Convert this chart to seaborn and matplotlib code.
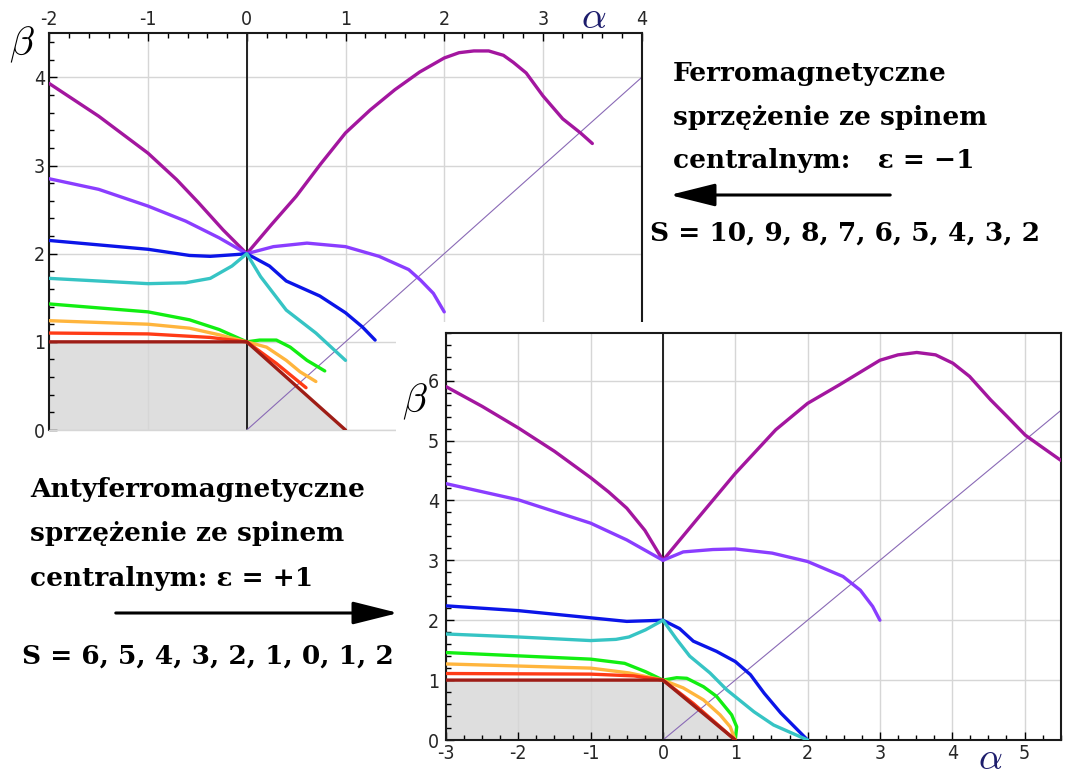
import matplotlib
matplotlib.use("Agg")
import matplotlib.pyplot as plt
import seaborn as sns
from matplotlib.patches import Rectangle, FancyArrowPatch
from matplotlib.ticker import MultipleLocator

# ---------------- data: ferromagnetic (eps = -1), top panel ----------------
fm_magenta_a = [-2, -1.5, -1, -0.71, -0.49, -0.24, 0, 0.25, 0.5, 0.75, 1, 1.25, 1.5, 1.75, 2, 2.15, 2.3, 2.45, 2.6, 2.7, 2.83, 3.0, 3.2, 3.38, 3.5]
fm_magenta_b = [3.93, 3.56, 3.14, 2.84, 2.58, 2.27, 2.0, 2.33, 2.65, 3.02, 3.37, 3.63, 3.86, 4.06, 4.22, 4.28, 4.30, 4.30, 4.25, 4.17, 4.05, 3.79, 3.53, 3.37, 3.25]
fm_violet_a = [-2, -1.5, -1, -0.62, -0.28, 0, 0.27, 0.61, 1, 1.34, 1.64, 1.76, 1.89, 2.0]
fm_violet_b = [2.85, 2.73, 2.54, 2.37, 2.18, 2.0, 2.08, 2.12, 2.08, 1.97, 1.82, 1.70, 1.55, 1.34]
fm_blue_a = [-2, -1, -0.58, -0.37, -0.11, 0, 0.23, 0.4, 0.74, 1.0, 1.17, 1.3]
fm_blue_b = [2.15, 2.05, 1.98, 1.97, 1.99, 2.0, 1.86, 1.69, 1.52, 1.33, 1.17, 1.02]
fm_cyan_a = [-2, -1, -0.62, -0.37, -0.15, 0, 0.14, 0.4, 0.7, 1.0]
fm_cyan_b = [1.72, 1.66, 1.67, 1.72, 1.86, 2.0, 1.74, 1.36, 1.10, 0.79]
fm_green_a = [-2, -1, -0.58, -0.28, 0, 0.13, 0.30, 0.44, 0.61, 0.79]
fm_green_b = [1.43, 1.34, 1.25, 1.14, 1.0, 1.02, 1.02, 0.94, 0.79, 0.67]
fm_orange_a = [-2, -1, -0.58, -0.28, 0, 0.2, 0.4, 0.54, 0.7]
fm_orange_b = [1.24, 1.20, 1.155, 1.08, 1.0, 0.94, 0.79, 0.66, 0.55]
fm_red_a = [-2, -1, -0.37, 0, 0.3, 0.6]
fm_red_b = [1.10, 1.09, 1.05, 1.0, 0.755, 0.48]
fm_dark_a = [-2, 0, 1]
fm_dark_b = [1, 1, 0]
fm_diag_a = [0, 4]
fm_diag_b = [0, 4]

# ---------------- data: antiferromagnetic (eps = +1), bottom panel ----------------
afm_magenta_a = [-3, -2.5, -2, -1.5, -1, -0.75, -0.5, -0.25, 0, 0.46, 1, 1.56, 2, 2.44, 3.0, 3.25, 3.51, 3.77, 4.01, 4.24, 4.53, 4.76, 5.01, 5.23, 5.5]
afm_magenta_b = [5.90, 5.57, 5.21, 4.82, 4.38, 4.14, 3.87, 3.50, 3.0, 3.67, 4.45, 5.18, 5.62, 5.93, 6.34, 6.43, 6.47, 6.43, 6.29, 6.07, 5.68, 5.40, 5.09, 4.90, 4.67]
afm_violet_a = [-3, -2, -1, -0.5, 0, 0.28, 0.69, 1, 1.51, 2, 2.49, 2.73, 2.9, 3.0]
afm_violet_b = [4.28, 4.01, 3.62, 3.34, 3.0, 3.14, 3.18, 3.19, 3.12, 2.98, 2.73, 2.50, 2.23, 2.0]
afm_blue_a = [-3, -2, -1, -0.5, -0.24, 0, 0.23, 0.42, 0.74, 1.0, 1.21, 1.40, 1.63, 1.77, 2.0]
afm_blue_b = [2.24, 2.16, 2.04, 1.98, 1.99, 2.0, 1.86, 1.65, 1.48, 1.31, 1.09, 0.78, 0.45, 0.28, 0.0]
afm_cyan_a = [-3, -2, -1, -0.65, -0.47, -0.24, 0, 0.19, 0.37, 0.65, 0.88, 1.26, 1.53, 2.0]
afm_cyan_b = [1.77, 1.72, 1.66, 1.68, 1.72, 1.84, 2.0, 1.68, 1.40, 1.12, 0.84, 0.47, 0.25, 0.0]
afm_green_a = [-3, -1, -0.53, -0.24, 0, 0.19, 0.33, 0.56, 0.74, 0.95, 1.02, 1.0]
afm_green_b = [1.46, 1.35, 1.28, 1.14, 1.0, 1.04, 1.03, 0.89, 0.73, 0.42, 0.22, 0.0]
afm_orange_a = [-3, -1, -0.47, 0, 0.28, 0.56, 0.79, 0.93, 1.0]
afm_orange_b = [1.27, 1.20, 1.12, 1.0, 0.87, 0.67, 0.42, 0.22, 0.0]
afm_red_a = [-3, -1, -0.4, 0, 0.42, 1.0]
afm_red_b = [1.11, 1.10, 1.07, 1.0, 0.61, 0.0]
afm_dark_a = [-3, 0, 1]
afm_dark_b = [1, 1, 0]
afm_diag_a = [0, 5.5]
afm_diag_b = [0, 5.5]

top_xticks = [-2, -1, 0, 1, 2, 3, 4]
top_yticks = [0, 1, 2, 3, 4]
bot_xticks = [-3, -2, -1, 0, 1, 2, 3, 4, 5]
bot_yticks = [0, 1, 2, 3, 4, 5, 6]

curve_colors = ["#a3169f", "#8a3dff", "#0b15e8", "#36c4c4", "#12ee12", "#ffb53d", "#ff3b16", "#9e1d16"]
DIAG = "#8a6ab6"
GRID = "#d6d6d6"
FILL = "#dedede"
NAVY = "#1d1d6c"

sns.set_style("white")
plt.rcParams["axes.unicode_minus"] = False
plt.rcParams["mathtext.fontset"] = "cm"
plt.rcParams["font.family"] = ["DejaVu Sans"]
plt.rcParams["font.stretch"] = "condensed"

fig = plt.figure(figsize=(10.76, 7.78), dpi=100)
W, H = 1076.0, 778.0


def rect(x0, y0, x1, y1):
    return [x0 / W, 1 - y1 / H, (x1 - x0) / W, (y1 - y0) / H]


def draw_panel(ax, curves, dark, diag, xlim, ylim, xticks, yticks, xminor, yminor, top):
    ax.set_xlim(*xlim)
    ax.set_ylim(*ylim)
    ax.set_axisbelow(True)
    ax.fill_between(dark[0], dark[1], 0, color=FILL, lw=0, zorder=0.2)
    ax.grid(True, which="major", color=GRID, lw=1.0)
    ax.axvline(0, color="#222222", lw=1.4, zorder=1.5)
    sns.lineplot(x=diag[0], y=diag[1], ax=ax, color=DIAG, lw=0.8, sort=False, estimator=None, zorder=1.6)
    for (a, b), c in zip(curves, curve_colors):
        sns.lineplot(x=a, y=b, ax=ax, color=c, lw=2.4, sort=False, estimator=None, zorder=3)
    ax.set_xticks(xticks)
    ax.set_yticks(yticks)
    ax.xaxis.set_minor_locator(MultipleLocator(xminor))
    ax.yaxis.set_minor_locator(MultipleLocator(yminor))
    ax.set_xlabel("")
    ax.set_ylabel("")
    if top:
        ax.xaxis.tick_top()
    ax.tick_params(which="both", direction="in", color="black", width=1.0,
                   top=top, bottom=not top, left=True, right=False,
                   labeltop=top, labelbottom=not top, labelsize=14, pad=3)
    ax.tick_params(which="major", length=6)
    ax.tick_params(which="minor", length=3.5)
    for s in ax.spines.values():
        s.set_color("#1a1a1a")
        s.set_linewidth(1.5)
        s.set_visible(True)


ax1 = fig.add_axes(rect(49.3, 33.3, 641.7, 430), zorder=0)
fm_curves = [(fm_magenta_a, fm_magenta_b), (fm_violet_a, fm_violet_b), (fm_blue_a, fm_blue_b),
             (fm_cyan_a, fm_cyan_b), (fm_green_a, fm_green_b), (fm_orange_a, fm_orange_b),
             (fm_red_a, fm_red_b), (fm_dark_a, fm_dark_b)]
draw_panel(ax1, fm_curves, (fm_dark_a, fm_dark_b), (fm_diag_a, fm_diag_b),
           (-2, 4), (0, 4.5), top_xticks, top_yticks, 0.2, 0.2, True)
ax1.spines["bottom"].set_color(GRID)
ax1.spines["bottom"].set_linewidth(1.0)

# white backdrop of the second plot, hiding the lower right part of the first one
fig.add_artist(Rectangle((396 / W, 0), 1 - 396 / W, 1 - 322 / H, transform=fig.transFigure,
                         facecolor="white", edgecolor="none", zorder=1))

ax2 = fig.add_axes(rect(446, 332.7, 1060.7, 740), zorder=2)
afm_curves = [(afm_magenta_a, afm_magenta_b), (afm_violet_a, afm_violet_b), (afm_blue_a, afm_blue_b),
              (afm_cyan_a, afm_cyan_b), (afm_green_a, afm_green_b), (afm_orange_a, afm_orange_b),
              (afm_red_a, afm_red_b), (afm_dark_a, afm_dark_b)]
draw_panel(ax2, afm_curves, (afm_dark_a, afm_dark_b), (afm_diag_a, afm_diag_b),
           (-3, 5.5), (0, 6.8), bot_xticks, bot_yticks, 0.25, 0.2, False)
ax2.tick_params(axis="y", which="both", pad=5)

# axis symbols
fig.text(594 / W, 1 - 17 / H, r"$\alpha$", color=NAVY, fontsize=28, ha="center", va="center", zorder=5)
fig.text(22 / W, 1 - 45 / H, r"$\beta$", color="black", fontsize=29, ha="center", va="center", zorder=5)
fig.text(990 / W, 1 - 759 / H, r"$\alpha$", color=NAVY, fontsize=27, ha="center", va="center", zorder=5)
fig.text(415 / W, 1 - 402 / H, r"$\beta$", color="black", fontsize=29, ha="center", va="center", zorder=5)

# annotations
tf = dict(family=["DejaVu Serif"], weight="bold", stretch="normal", fontsize=19, color="black",
          va="baseline", ha="left", zorder=5)
fig.text(673 / W, 1 - 81 / H, "Ferromagnetyczne", **tf)
fig.text(673 / W, 1 - 125 / H, "sprzężenie ze spinem", **tf)
fig.text(673 / W, 1 - 168 / H, "centralnym:   ε = −1", **tf)
fig.text(650 / W, 1 - 241 / H, "S = 10, 9, 8, 7, 6, 5, 4, 3, 2", **tf)

fig.text(30 / W, 1 - 497 / H, "Antyferromagnetyczne", **tf)
fig.text(30 / W, 1 - 541 / H, "sprzężenie ze spinem", **tf)
fig.text(30 / W, 1 - 586 / H, "centralnym: ε = +1", **tf)
fig.text(22 / W, 1 - 664 / H, "S = 6, 5, 4, 3, 2, 1, 0, 1, 2", **tf)

fig.add_artist(FancyArrowPatch((893 / W, 1 - 195 / H), (667 / W, 1 - 195 / H), transform=fig.transFigure,
                               arrowstyle="-|>,head_length=1.4,head_width=0.35", mutation_scale=20,
                               lw=2.2, color="black", zorder=5))
fig.add_artist(FancyArrowPatch((113 / W, 1 - 613 / H), (401 / W, 1 - 613 / H), transform=fig.transFigure,
                               arrowstyle="-|>,head_length=1.4,head_width=0.35", mutation_scale=20,
                               lw=2.2, color="black", zorder=5))

fig.savefig("out.png", dpi=100, facecolor="white")
